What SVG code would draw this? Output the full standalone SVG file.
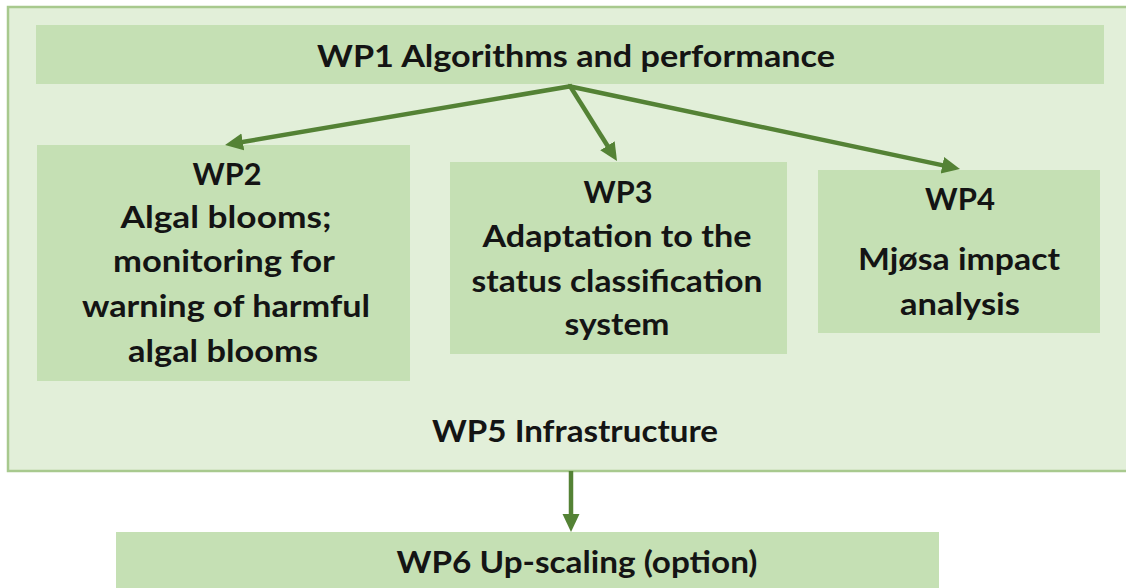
<svg xmlns="http://www.w3.org/2000/svg" width="1126" height="588" viewBox="0 0 1126 588">
<defs>
<style>
.box{fill:#c5e0b4;}
.outer{fill:#e2efd9;stroke:#a8c98e;stroke-width:2.5;}
.t{font-family:Lato,"Open Sans","Liberation Sans",sans-serif;font-weight:bold;font-size:31px;fill:#141414;text-anchor:middle;}
.c{stroke:#548235;stroke-width:4.5;fill:none;}
</style>
<marker id="ah" markerUnits="userSpaceOnUse" markerWidth="20" markerHeight="20" viewBox="0 0 20 20" refX="8" refY="10" orient="auto">
<path d="M0,1.5 L18,10 L0,18.5 Z" fill="#548235"/>
</marker>
</defs>
<rect width="1126" height="588" fill="#ffffff"/>
<g id="wp5">
<rect class="outer" x="8" y="7" width="1130" height="464"/>
<text class="t" x="575" y="442" textLength="286" lengthAdjust="spacingAndGlyphs">WP5 Infrastructure</text>
</g>
<g id="wp1">
<rect class="box" x="36" y="25" width="1068" height="59"/>
<text class="t" x="576" y="67" font-size="32" textLength="518" lengthAdjust="spacingAndGlyphs">WP1 Algorithms and performance</text>
</g>
<g id="wp2">
<rect class="box" x="37" y="145" width="373" height="236"/>
<text class="t" x="227" y="185" textLength="69" lengthAdjust="spacingAndGlyphs">WP2</text>
<text class="t" x="226" y="228" textLength="211" lengthAdjust="spacingAndGlyphs">Algal blooms;</text>
<text class="t" x="224" y="272" textLength="222" lengthAdjust="spacingAndGlyphs">monitoring for</text>
<text class="t" x="226" y="317" textLength="288" lengthAdjust="spacingAndGlyphs">warning of harmful</text>
<text class="t" x="223" y="362" textLength="190" lengthAdjust="spacingAndGlyphs">algal blooms</text>
</g>
<g id="wp3">
<rect class="box" x="450" y="162" width="337" height="192"/>
<text class="t" x="618" y="203" textLength="69" lengthAdjust="spacingAndGlyphs">WP3</text>
<text class="t" x="617" y="247" textLength="269" lengthAdjust="spacingAndGlyphs">Adaptation to the</text>
<text class="t" x="617" y="292" textLength="291" lengthAdjust="spacingAndGlyphs">status classification</text>
<text class="t" x="617" y="335" textLength="105" lengthAdjust="spacingAndGlyphs">system</text>
</g>
<g id="wp4">
<rect class="box" x="818" y="170" width="282" height="163"/>
<text class="t" x="960" y="210" textLength="70" lengthAdjust="spacingAndGlyphs">WP4</text>
<text class="t" x="959" y="270" textLength="202" lengthAdjust="spacingAndGlyphs">Mjøsa impact</text>
<text class="t" x="960" y="315" textLength="120" lengthAdjust="spacingAndGlyphs">analysis</text>
</g>
<g id="wp6">
<rect class="box" x="116" y="532" width="823" height="60"/>
<text class="t" x="577" y="573" textLength="361" lengthAdjust="spacingAndGlyphs">WP6 Up-scaling (option)</text>
</g>
<g id="connectors">
<line class="c" x1="572" y1="86" x2="234.9" y2="143.3" marker-end="url(#ah)"/>
<line class="c" x1="570" y1="86" x2="611.7" y2="152.5" marker-end="url(#ah)"/>
<line class="c" x1="568" y1="86" x2="950.2" y2="166.9" marker-end="url(#ah)"/>
<line class="c" x1="571" y1="471" x2="571" y2="522" marker-end="url(#ah)"/>
</g>
</svg>
